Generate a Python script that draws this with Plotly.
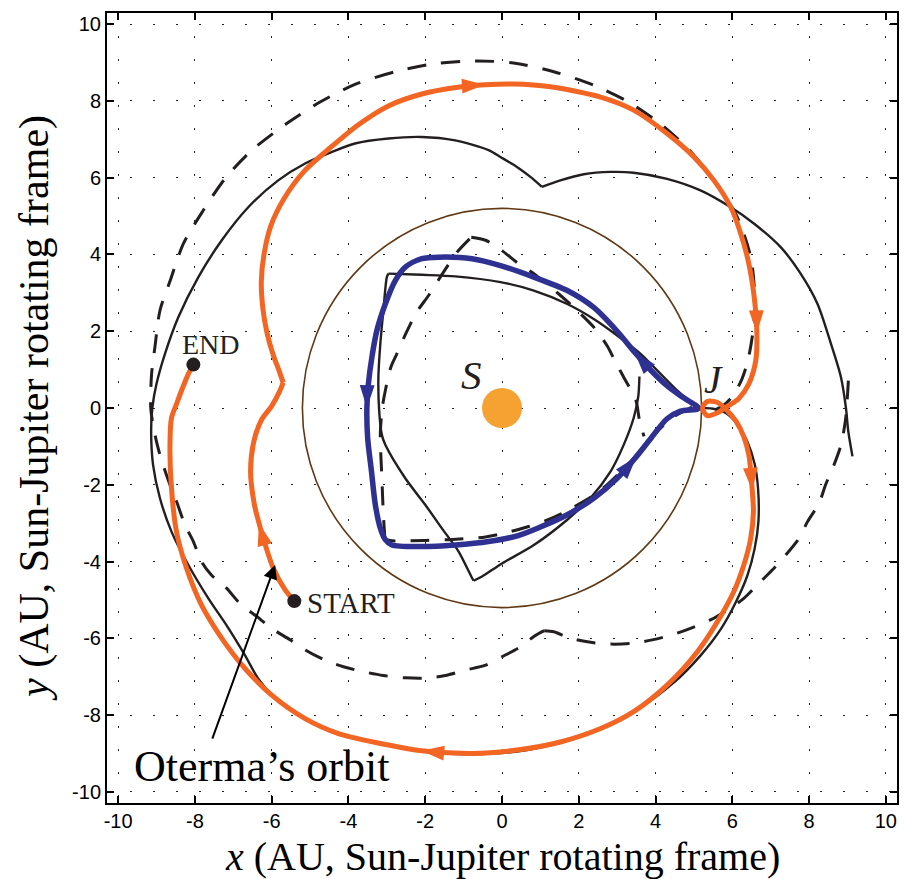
import numpy as np
import plotly.graph_objects as go

# ---------------- data (AU, Sun-Jupiter rotating frame) ----------------
TICK_VALS = [-10, -8, -6, -4, -2, 0, 2, 4, 6, 8, 10]
TICK_TEXT = ["-10", "-8", "-6", "-4", "-2", "0", "2", "4", "6", "8", "10"]

# Oterma's orbit (orange), START -> END
ORANGE_X = [-5.41, -5.65, -5.96, -6.22, -6.33, -6.45, -6.55, -6.46, -6.26, -6.00, -5.80, -5.70, None,
            -5.70, -5.80, -5.96, -6.12, -6.23, -6.27, -6.20, -6.02, -5.68, -5.15, -4.45, -3.74, -2.96,
            -2.09, -1.20, -0.45, 0.30, 1.26, 2.57, 3.43, 4.30, 5.00, 5.52, 5.96, 6.22, 6.43, 6.57, 6.64,
            6.61, 6.43, 6.17, 5.90, 5.60, 5.35, 5.22, 5.35, 5.60, 5.85, 6.10, 6.30, 6.43, 6.52, 6.55,
            6.48, 6.30, 6.04, 5.61, 5.09, 4.30, 3.43, 2.57, 1.52, 0.39, -0.78, -2.10, -2.96, -4.26,
            -5.13, -6.00, -6.70, -7.30, -7.83, -8.22, -8.48, -8.61, -8.65, -8.61, -8.48, -8.35, -8.17, -8.04]
ORANGE_Y = [-5.03, -4.74, -4.17, -3.39, -3.00, -2.52, -1.65, -0.85, -0.30, 0.05, 0.42, 0.66, None,
            0.66, 0.95, 1.38, 1.95, 2.60, 3.30, 4.00, 4.75, 5.45, 6.17, 6.80, 7.38, 7.87,
            8.18, 8.35, 8.42, 8.44, 8.37, 8.10, 7.76, 7.15, 6.54, 5.93, 5.23, 4.54, 3.76, 2.89, 1.95,
            1.23, 0.63, 0.25, 0.06, -0.13, -0.20, 0.00, 0.17, 0.15, -0.05, -0.35, -0.75, -1.22, -2.15, -2.70,
            -3.39, -4.09, -4.78, -5.57, -6.35, -7.22, -7.91, -8.35, -8.70, -8.91, -9.00, -8.93, -8.78, -8.48,
            -8.09, -7.48, -6.78, -6.00, -5.13, -4.17, -3.22, -2.09, -1.04, -0.26, 0.10, 0.45, 0.89, 1.13]
ORANGE_ARROWS = [4, 28, 40, 54, 67]

# Lyapunov-type loop inside Jupiter's orbit (blue)
BLUE_X = [5.12, 4.65, 4.30, 3.87, 3.45, 3.00, 2.39, 1.70, 0.83, -0.04, -0.78, -1.65, -2.09, -2.52,
          -2.78, -3.04, -3.26, -3.39, -3.48, -3.52, -3.50, -3.40, -3.30, -3.17, -3.04, -2.87, -2.09,
          -1.22, -0.35, 0.40, 1.00, 1.70, 2.39, 3.00, 3.50, 3.87, 4.30, 4.65, 5.12]
BLUE_Y = [-0.01, 0.32, 0.58, 0.99, 1.46, 2.00, 2.62, 3.06, 3.41, 3.71, 3.89, 3.93, 3.89, 3.67,
          3.32, 2.71, 2.02, 1.32, 0.63, 0.00, -0.78, -1.65, -2.52, -3.13, -3.43, -3.57, -3.61,
          -3.57, -3.48, -3.33, -3.10, -2.78, -2.35, -1.83, -1.27, -0.80, -0.28, -0.08, -0.01]
BLUE_ARROWS = [4, 19, 34]

# Black solid trajectory (exterior + interior parts)
SOLID_X = [9.13, 9.02, 8.96, 8.83, 8.57, 8.22, 7.78, 7.26, 6.57, 5.96, 5.17, 4.30, 3.43, 2.83, 2.13,
           1.52, 1.04, None, 1.04, 0.74, 0.39, -0.04, -0.35, -1.22, -2.09, -2.96, -3.83, -4.43, -5.13,
           -5.83, -6.61, -7.30, -7.91, -8.43, -8.78, -9.00, -9.11, -9.14, -9.09, -8.91, -8.61, -8.17,
           -7.65, -7.15, -6.72, -6.35, -6.00, -5.13, -4.26, -2.96, -1.83, -0.78, 0.39, 1.70, 2.74, 3.61, 4.48,
           5.17, 5.70, 6.09, 6.39, 6.58, 6.68, 6.67, 6.58, 6.40, 6.15, 5.85, 5.50, 5.09, 4.91, 4.57,
           4.13, 3.61, 3.00, 2.39, 1.70, 0.83, -0.04, -1.22, -2.09, -2.96, None,
           -2.96, -3.00, -3.09, -3.17, -3.22, -3.20, -3.13, -3.04, -2.52, -2.00, -1.57, -1.13, -0.78,
           -0.74, None, -0.74, -0.52, 0.00, 0.83, 1.70, 2.30, 2.83, 3.17, 3.43, 3.55, 3.58]
SOLID_Y = [-1.26, -0.60, 0.00, 0.80, 1.67, 2.71, 3.50, 4.19, 4.80, 5.23, 5.67, 5.97, 6.13, 6.15, 6.09,
           5.93, 5.76, None, 5.76, 6.02, 6.28, 6.54, 6.72, 6.97, 7.06, 7.02, 6.89, 6.67, 6.37,
           5.93, 5.23, 4.37, 3.41, 2.37, 1.41, 0.63, 0.00, -0.61, -1.48, -2.35, -3.22, -4.09,
           -4.96, -5.70, -6.40, -7.05, -7.46, -8.08, -8.48, -8.79, -8.97, -9.02, -8.95, -8.67, -8.28, -7.80, -7.15,
           -6.45, -5.76, -5.06, -4.37, -3.67, -2.96, -2.09, -1.45, -0.90, -0.45, -0.14, -0.02, 0.02, 0.15, 0.45,
           0.89, 1.41, 1.89, 2.32, 2.71, 3.06, 3.28, 3.43, 3.47, 3.50, None,
           3.50, 3.41, 2.54, 1.67, 0.80, -0.07, -0.70, -0.96, -1.83, -2.52, -3.13, -3.74, -4.43,
           -4.50, None, -4.50, -4.39, -4.05, -3.57, -2.91, -2.35, -1.65, -0.96, -0.26, 0.30, 0.82]

# Black dashed trajectory, exterior part
DASH_OUT_X = [5.55, 5.75, 6.00, 6.25, 6.42, 6.55, 6.58, 6.48, 6.13, 5.61, 4.96, 4.17, 3.30, 2.39, 1.35,
              0.30, -0.70, -1.74, -2.78, -3.83, -4.74, -5.61, -6.52, -7.22, -7.78, -8.30, -8.65, -8.91,
              -9.04, -9.13, -9.15, -9.07, -8.96, -8.83, -8.65, -8.48, -8.26, -8.04, -7.83, -7.57, -7.17,
              -6.83, -6.39, -6.00, -5.52, -5.13, -4.61, -4.13, -3.61, -3.09, -2.52, -2.04, -1.48, -0.96,
              -0.43, 0.00, 0.48, 0.83, 1.10, None, 1.10, 1.35, 1.78, 2.35, 2.83, 3.39, 3.91, 4.43, 4.91,
              5.43, 5.87, 6.30, 6.65, 7.04, 7.39, 7.74, 7.96, 8.26, 8.43, 8.65, 8.83, 8.95, 9.00, 9.04]
DASH_OUT_Y = [-0.05, 0.05, 0.30, 0.75, 1.30, 2.10, 3.00, 3.93, 4.97, 5.80, 6.63, 7.37, 7.97, 8.41, 8.76,
              8.99, 9.04, 8.97, 8.76, 8.43, 7.97, 7.41, 6.71, 5.97, 5.15, 4.28, 3.30, 2.54,
              1.60, 0.87, 0.00, -0.55, -1.04, -1.48, -2.00, -2.43, -3.04, -3.48, -4.00, -4.35, -4.70,
              -5.09, -5.43, -5.74, -6.04, -6.30, -6.57, -6.74, -6.87, -6.97, -7.03, -7.04, -6.97, -6.83,
              -6.70, -6.48, -6.22, -5.95, -5.80, None, -5.80, -5.83, -6.00, -6.11, -6.15, -6.13, -6.04, -5.91, -5.74,
              -5.52, -5.26, -4.96, -4.61, -4.22, -3.83, -3.39, -2.96, -2.48, -2.00, -1.48, -0.96, -0.30, 0.33, 1.00]

# Black dashed trajectory, interior part
DASH_IN_X = [4.95, 4.46, 3.90, 3.30, 2.50, 1.61, 1.17, 0.65, 0.22, -0.43, -1.39, -2.00, -2.87, -3.05, None,
             -3.05, -3.09, -3.13, -3.17, -3.12, -3.04, -2.90, -2.74, -2.50, -2.22, -1.90, -1.55, -1.17, -0.80, None,
             -0.80, -0.43, 0.00, 0.43, 0.83, 1.48, 2.00, 2.43, 2.75, 2.96, 3.20, 3.48, 3.58, 3.70]
DASH_IN_Y = [0.02, -0.24, -0.75, -1.45, -2.20, -2.72, -2.92, -3.10, -3.22, -3.36, -3.43, -3.45, -3.46, -3.42, None,
             -3.42, -2.78, -1.80, -0.70, 0.00, 0.45, 1.05, 1.41, 1.95, 2.50, 2.95, 3.50, 4.06, 4.45, None,
             4.45, 4.37, 4.10, 3.76, 3.50, 2.97, 2.50, 2.06, 1.60, 1.19, 0.75, 0.23, -0.31, -0.74]

JUPITER_ORBIT_R = 5.2
SUN_XY = (0.0, 0.0)

ORANGE = "#F26522"
BLUE = "#2E3192"
BROWN = "#603813"
SUN = "#F5A233"
INK = "#231F20"
SERIF = "Liberation Serif, Times New Roman, serif"
SANS = "Liberation Sans, Arial, sans-serif"


def arrow_marks(xs, ys, idxs):
    px, py, ang = [], [], []
    for i in idxs:
        dx = xs[i + 1] - xs[i - 1]
        dy = ys[i + 1] - ys[i - 1]
        px.append(xs[i])
        py.append(ys[i])
        ang.append(float(np.degrees(np.arctan2(dx, dy))))
    return px, py, ang


fig = go.Figure()

fig.add_shape(type="circle", xref="x", yref="y",
              x0=-JUPITER_ORBIT_R, y0=-JUPITER_ORBIT_R, x1=JUPITER_ORBIT_R, y1=JUPITER_ORBIT_R,
              line=dict(color=BROWN, width=1.6), layer="between")

fig.add_trace(go.Scatter(x=SOLID_X, y=SOLID_Y, mode="lines", connectgaps=False,
                         line=dict(color=INK, width=2.4, shape="spline", smoothing=0.8)))
fig.add_trace(go.Scatter(x=DASH_OUT_X, y=DASH_OUT_Y, mode="lines", connectgaps=False,
                         line=dict(color=INK, width=3, dash="19px,15px", shape="spline", smoothing=0.8)))
fig.add_trace(go.Scatter(x=DASH_IN_X, y=DASH_IN_Y, mode="lines", connectgaps=False,
                         line=dict(color=INK, width=3, dash="19px,15px", shape="spline", smoothing=0.8)))

fig.add_trace(go.Scatter(x=BLUE_X, y=BLUE_Y, mode="lines",
                         line=dict(color=BLUE, width=5.5, shape="spline", smoothing=0.8)))
bx, by, ba = arrow_marks(BLUE_X, BLUE_Y, BLUE_ARROWS)
fig.add_trace(go.Scatter(x=bx, y=by, mode="markers",
                         marker=dict(symbol="arrow", size=24, angle=ba, color=BLUE, line=dict(width=0))))

fig.add_trace(go.Scatter(x=ORANGE_X, y=ORANGE_Y, mode="lines", connectgaps=False,
                         line=dict(color=ORANGE, width=5, shape="spline", smoothing=0.8)))
ox, oy, oa = arrow_marks(ORANGE_X, ORANGE_Y, ORANGE_ARROWS)
fig.add_trace(go.Scatter(x=ox, y=oy, mode="markers",
                         marker=dict(symbol="arrow", size=24, angle=oa, color=ORANGE, line=dict(width=0))))

# START / END dots
fig.add_trace(go.Scatter(x=[ORANGE_X[0], ORANGE_X[-1]], y=[ORANGE_Y[0], ORANGE_Y[-1]], mode="markers",
                         marker=dict(size=14, color=INK)))
# Sun
fig.add_trace(go.Scatter(x=[SUN_XY[0]], y=[SUN_XY[1]], mode="markers",
                         marker=dict(size=40, color=SUN, line=dict(width=0))))

ann = [
    dict(x=ORANGE_X[0] + 0.28, y=ORANGE_Y[0] - 0.05, text="START", xanchor="left", yanchor="middle",
         showarrow=False, font=dict(family=SERIF, size=29, color=INK)),
    dict(x=ORANGE_X[-1] + 0.45, y=ORANGE_Y[-1] + 0.52, text="END", xanchor="center", yanchor="middle",
         showarrow=False, font=dict(family=SERIF, size=28, color=INK)),
    dict(x=-0.79, y=0.85, text="<i>S</i>", showarrow=False, xanchor="center", yanchor="middle",
         font=dict(family=SERIF, size=41, color=INK)),
    dict(x=5.51, y=0.75, text="<i>J</i>", showarrow=False, xanchor="center", yanchor="middle",
         font=dict(family=SERIF, size=39, color=INK)),
    dict(x=-6.26, y=-9.35, text="Oterma\u2019s orbit", showarrow=False, xanchor="center", yanchor="middle",
         font=dict(family=SERIF, size=44, color="black")),
    dict(x=-5.91, y=-4.09, ax=-7.56, ay=-8.65, axref="x", ayref="y", xref="x", yref="y", text="",
         showarrow=True, arrowhead=2, arrowsize=1.4, arrowwidth=2, arrowcolor="black", standoff=0),
    dict(x=0.5, y=0, xref="paper", yref="paper", yshift=-53, xanchor="center", yanchor="middle",
         text="<i>x</i> (AU, Sun-Jupiter rotating frame)", showarrow=False,
         font=dict(family=SERIF, size=40, color="black")),
    dict(x=0, y=0.5, xref="paper", yref="paper", xshift=-73, xanchor="center", yanchor="middle",
         text="<i>y</i> (AU, Sun-Jupiter rotating frame)", textangle=-90, showarrow=False,
         font=dict(family=SERIF, size=42, color="black")),
]

axis_common = dict(
    range=[-10.29, 10.29], tickmode="array", tickvals=TICK_VALS, ticktext=TICK_TEXT,
    ticks="inside", ticklen=7, tickwidth=2, tickcolor="black",
    showline=True, linewidth=2, linecolor="black", mirror="ticks",
    showgrid=True, gridcolor="#222222", gridwidth=1.3, griddash="2px,21px",
    zeroline=False, tickfont=dict(family=SANS, size=20, color="black"),
    automargin=False,
)

fig.update_layout(
    width=911, height=879,
    margin=dict(l=107, r=14, t=13, b=76),
    paper_bgcolor="white", plot_bgcolor="white",
    showlegend=False,
    xaxis=dict(axis_common, ticklabelstandoff=-1),
    yaxis=dict(axis_common, scaleanchor="x", scaleratio=1, ticklabelstandoff=0),
    annotations=ann,
)

fig.write_html("out.html", config={"displayModeBar": False},
               post_script="document.body.style.margin='0px';document.body.style.overflow='hidden';")
